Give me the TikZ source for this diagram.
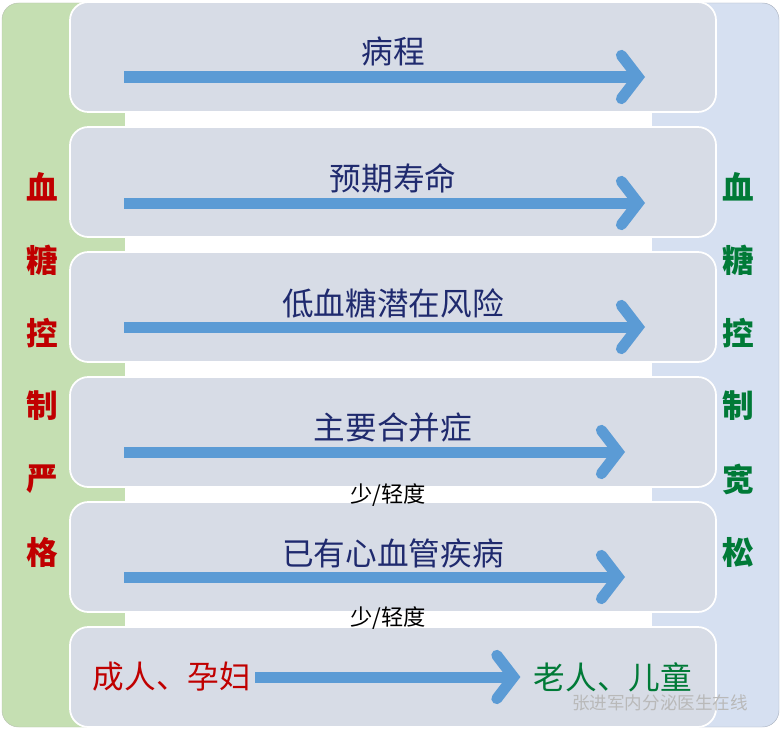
\documentclass[tikz,border=0pt]{standalone}
\usepackage{fontspec}
\setmainfont{Liberation Sans}
\newfontfamily\cjk{Noto Sans CJK SC}
\usetikzlibrary{positioning, arrows.meta}
\definecolor{sidegreen}{HTML}{C5DFB2}
\definecolor{sideblue}{HTML}{D6E0F1}
\definecolor{rowgray}{HTML}{D7DCE6}
\definecolor{arrowblue}{HTML}{5B9BD5}
\definecolor{txtblue}{HTML}{1F2A6E}
\definecolor{strictred}{HTML}{C00000}
\definecolor{loosegreen}{HTML}{007A37}
\tikzset{
  rowbox/.style={fill=rowgray, draw=white, line width=1.5pt, rounded corners=0.55cm},
  flow/.style={draw=arrowblue, line width=0.33cm, -{Straight Barb[length=0.5cm, width=1.3cm, line cap=round]}},
  rowlabel/.style={font=\cjk\fontsize{27}{27}\selectfont, text=txtblue},
  note/.style={font=\cjk\fontsize{19}{19}\selectfont},
  sideword/.style={font=\cjk\bfseries\fontsize{27}{27}\selectfont},
}
\begin{document}
\begin{tikzpicture}[x=0.03cm, y=-0.03cm]
\useasboundingbox (0,0) rectangle (781,730);
% side panels %
\fill[white] (0,0) rectangle (781,730);
\draw[fill=sidegreen, draw=sidegreen!70!black!60, rounded corners=0.5cm] (2,3) rectangle (250,727);
\draw[fill=sideblue, draw=sideblue!80!black, rounded corners=0.5cm] (530,3) rectangle (779,727);
\fill[white] (125,100) rectangle (652,700);
% rows %
\foreach \y in {2,127,252,377,502}
  \draw[rowbox] (70,\y) rectangle (716,\y+110);
\draw[rowbox] (70,627) rectangle (716,727);
% labels %
\node[rowlabel] (t1) at (393,51) {病程};
\node[rowlabel] (t2) at (393,178) {预期寿命};
\node[rowlabel] (t3) at (393,303) {低血糖潜在风险};
\node[rowlabel] (t4) at (393,428) {主要合并症};
\node[note] (n4) at (388,495) {少/轻度};
\node[rowlabel] (t5) at (393,553) {已有心血管疾病};
\node[note] (n5) at (388,618) {少/轻度};
\node[rowlabel, text=strictred] (adult) at (172,677) {成人、孕妇};
\node[rowlabel, text=loosegreen] (old) at (613,677) {老人、儿童};
\node[font=\cjk\fontsize{15}{15}\selectfont, text=gray!55] (mark) at (660,703) {张进军内分泌医生在线};
% arrow ends %
\foreach \i/\y/\e in {1/77/645,2/203/645,3/327/645,4/452/625,5/577/625}{
  \coordinate (s\i) at (124,\y);
  \coordinate (e\i) at (\e,\y);
  \draw[flow] (s\i) -- (e\i);
}
\draw[flow] (adult.east) -- ([xshift=-8pt]old.west);
% side words %
\foreach \c [count=\k] in {血,糖,控,制,严,格}
  \node[sideword, text=strictred] (l\k) at (42,114+73*\k) {\c};
\foreach \c [count=\k] in {血,糖,控,制,宽,松}
  \node[sideword, text=loosegreen] (r\k) at (738,114+73*\k) {\c};
\end{tikzpicture}
\end{document}
